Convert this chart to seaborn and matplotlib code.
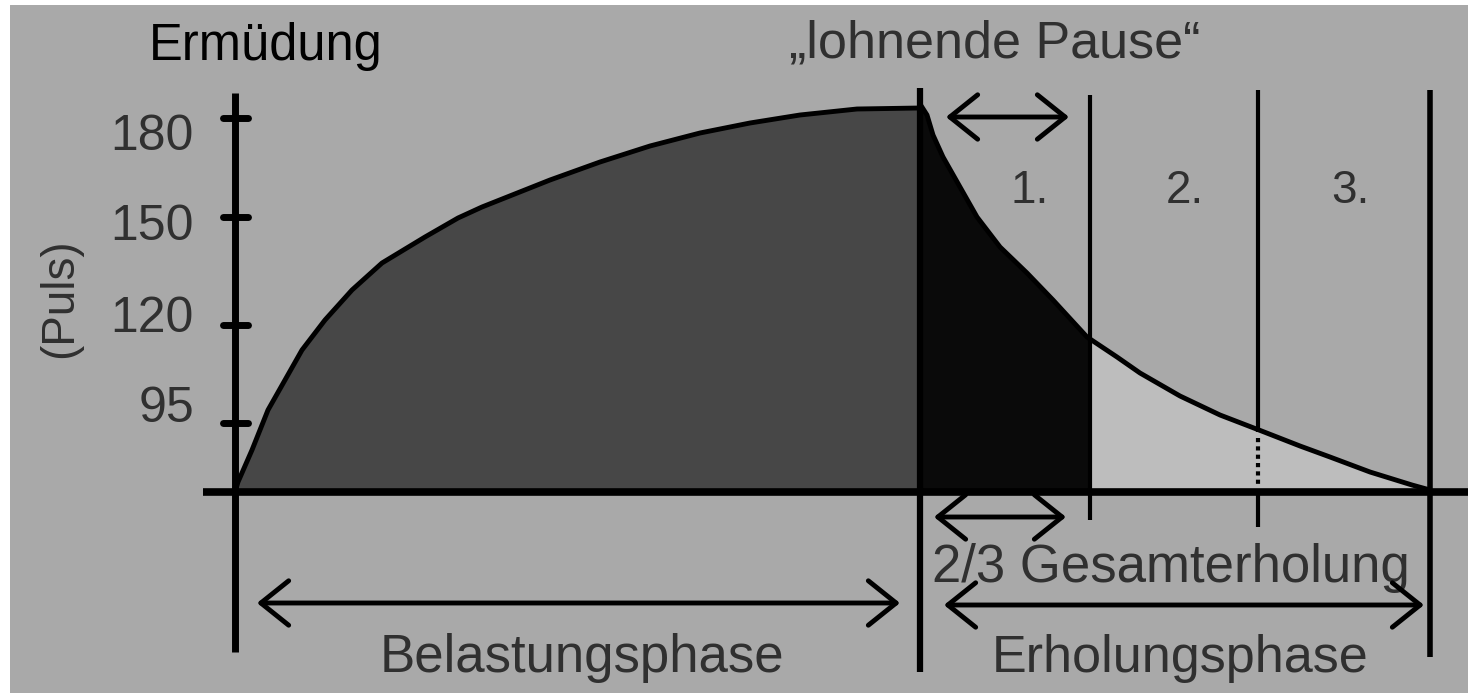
import matplotlib
matplotlib.use("Agg")
import matplotlib.pyplot as plt
import seaborn as sns
import pandas as pd

sns.set_theme(style="white")
plt.rcParams['font.family'] = ['Liberation Sans', 'DejaVu Sans']

# ---- data (x: time from start of load, y: pulse level above baseline, schematic units) ----
load_t  = [0, 3, 17, 33, 50, 67, 90, 117, 147, 190, 223, 247, 315, 365, 415, 465, 515, 565, 622, 685]
load_hr = [0, 10, 42, 82, 112, 142, 172, 202, 229, 255, 274, 285, 312, 330, 346, 359, 369, 377, 383, 384]

rec_t  = [685, 692, 698, 708, 725, 742, 765, 792, 818, 852, 882, 905, 945, 985, 1024, 1065, 1095, 1135, 1177, 1195]
rec_hr = [388, 377, 357, 335, 305, 275, 245, 219, 192, 155, 135, 119, 96, 77, 62, 46, 35, 20, 7, 2]

tick_pos    = [374, 275, 167, 69]
tick_labels = ["180", "150", "120", "95"]
label_pos   = [342, 252, 160, 70]

phase_bounds = [685, 855, 1023, 1195]   # end of load, end of 1st, 2nd, 3rd recovery part
phase_names  = ["1.", "2.", "3."]
phase_label_x = [795, 950, 1115]

BG = "#a9a9a9"
DARK = "#474747"
BLACK = "#0a0a0a"
LIGHT = "#bdbdbd"
TXT = "#303030"

fig = plt.figure(figsize=(14.68, 6.93), dpi=100, facecolor="white")
ax = fig.add_axes([10 / 1468, 0, 1458 / 1468, 688 / 693])
ax.set_xlim(-225, 1233)
ax.set_ylim(-201, 487)
ax.axis("off")
ax.add_patch(plt.Rectangle((0, 0), 1, 1, transform=ax.transAxes, color=BG, zorder=0))

load = pd.DataFrame({"t": load_t, "hr": load_hr})
rec = pd.DataFrame({"t": rec_t, "hr": rec_hr})

# fills
ax.fill_between(load["t"], 0, load["hr"], color=DARK, lw=0, zorder=1)
ax.fill_between(rec["t"], 0, rec["hr"], color=LIGHT, lw=0, zorder=1)
blk = ax.fill_between(rec["t"], 0, rec["hr"], color=BLACK, lw=0, zorder=1.5)
clip = plt.Rectangle((phase_bounds[0], -10), phase_bounds[1] - phase_bounds[0], 500,
                     transform=ax.transData, visible=False)
ax.add_patch(clip)
blk.set_clip_path(clip)

# curves
sns.lineplot(data=load, x="t", y="hr", ax=ax, color="black", lw=3.5, sort=False, zorder=3)
sns.lineplot(data=rec, x="t", y="hr", ax=ax, color="black", lw=3.5, sort=False, zorder=3)

# axes lines
ax.plot([0, 0], [399, -160], color="black", lw=5, solid_capstyle="butt", zorder=4)
ax.plot([-32, 1233], [0, 0], color="black", lw=5.5, solid_capstyle="butt", zorder=4)
for yp in tick_pos:
    ax.plot([-12, 13], [yp, yp], color="black", lw=5, solid_capstyle="round", zorder=4)
for lab, yp in zip(tick_labels, label_pos):
    ax.text(-41, yp, lab, ha="right", va="baseline", fontsize=36, color=TXT)

# phase separators
ax.plot([phase_bounds[0]] * 2, [404, -180], color="black", lw=4.5, solid_capstyle="butt", zorder=4)
ax.plot([phase_bounds[1]] * 2, [397, -28], color="black", lw=3, solid_capstyle="butt", zorder=4)
ax.plot([phase_bounds[2]] * 2, [402, 60], color="black", lw=3, solid_capstyle="butt", zorder=4)
ax.plot([phase_bounds[2]] * 2, [54, 4], color="black", lw=3, ls=(0, (1, 1)), zorder=4)
ax.plot([phase_bounds[2]] * 2, [0, -35], color="black", lw=3, solid_capstyle="butt", zorder=4)
ax.plot([phase_bounds[3]] * 2, [402, -165], color="black", lw=4, solid_capstyle="butt", zorder=4)

# arrows
def darrow(x1, x2, y):
    ax.annotate("", xy=(x2, y), xytext=(x1, y),
                arrowprops=dict(arrowstyle="<->,head_length=0.5,head_width=0.4",
                                lw=3.5, color="black", shrinkA=0, shrinkB=0,
                                mutation_scale=40), zorder=5)

darrow(22, 665, -111)
darrow(711, 834, 375)
darrow(699, 831, -25)
darrow(709, 1189, -113)

# texts
ax.text(31, 432, "Ermüdung", ha="center", va="baseline", fontsize=36.5, color="black")
ax.text(760, 434, "\u201elohnende Pause\u201c", ha="center", va="baseline", fontsize=37.5, color=TXT)
for cx, name in zip(phase_label_x, phase_names):
    ax.text(cx, 289, name, ha="center", va="baseline", fontsize=33, color=TXT)
ax.text(936, -90, "2/3 Gesamterholung", ha="center", va="baseline", fontsize=38, color=TXT)
ax.text(945, -180, "Erholungsphase", ha="center", va="baseline", fontsize=37.5, color=TXT)
ax.text(347, -180, "Belastungsphase", ha="center", va="baseline", fontsize=38, color=TXT)
ax.text(-175, 194, "(Puls)", ha="center", va="center", rotation=90, fontsize=33, color=TXT)

fig.savefig("out.png", dpi=100, facecolor="white")
